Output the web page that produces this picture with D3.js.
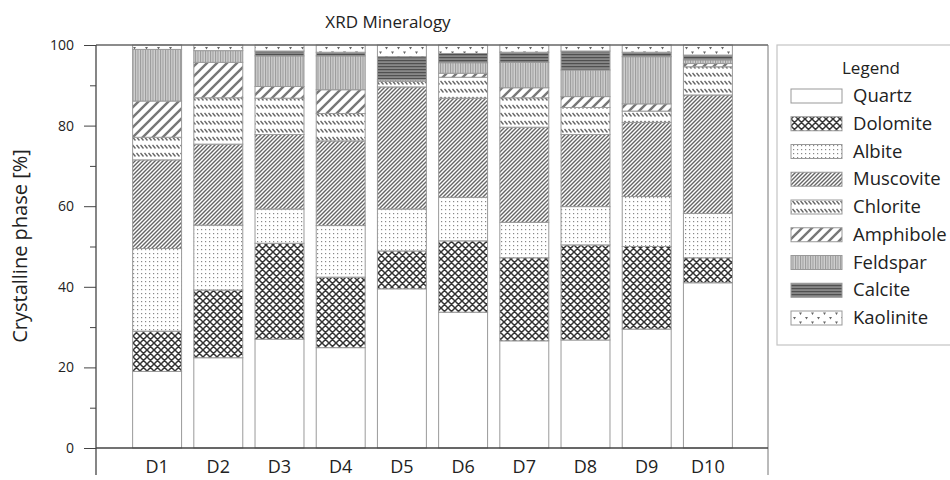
<!DOCTYPE html>
<html>
<head>
<meta charset="utf-8">
<script src="https://cdn.jsdelivr.net/npm/d3@7"></script>
<style>
  body { margin: 0; background: #fff; }
  text { font-family: "Open Sans", "Noto Sans", sans-serif; fill: #222; }
</style>
</head>
<body>
<script>
// Chart data.
var categories = ["D1", "D2", "D3", "D4", "D5", "D6", "D7", "D8", "D9", "D10"];
var minerals = ["Quartz", "Dolomite", "Albite", "Muscovite", "Chlorite", "Amphibole", "Feldspar", "Calcite", "Kaolinite"];
var quartz    = [19.0, 22.4, 27.0, 24.9, 39.5, 33.7, 26.6, 26.8, 29.5, 41.0];
var dolomite  = [10.0, 16.8, 23.8, 17.5,  9.4, 17.7, 20.6, 23.6, 20.5,  6.2];
var albite    = [20.5, 16.1,  8.5, 12.8, 10.4, 10.8,  8.8,  9.5, 12.4, 11.0];
var muscovite = [22.0, 20.1, 18.5, 21.0, 30.3, 24.6, 23.6, 17.9, 18.4, 29.4];
var chlorite  = [ 5.6, 11.5,  9.0,  6.8,  1.4,  5.2,  7.3,  6.7,  2.8,  7.0];
var amphibole = [ 9.0,  8.8,  2.9,  5.9,  0.0,  1.0,  2.5,  2.7,  1.8,  0.8];
var feldspar  = [12.8,  2.9,  7.6,  8.4,  0.4,  2.6,  6.3,  6.6, 11.7,  0.9];
var calcite   = [ 0.0,  0.0,  1.2,  0.9,  5.7,  2.3,  2.5,  4.7,  1.1,  1.2];
var kaolinite = [ 1.1,  1.4,  1.5,  1.8,  2.9,  2.1,  1.8,  1.5,  1.8,  2.5];
var yTicks = [0, 20, 40, 60, 80, 100];
var yMinorTicks = [10, 30, 50, 70, 90];

var series = [quartz, dolomite, albite, muscovite, chlorite, amphibole, feldspar, calcite, kaolinite];

// Build the table d3.stack wants.
var table = categories.map(function(c, i) {
    var row = {cat: c};
    minerals.forEach(function(m, j) { row[m] = series[j][i]; });
    return row;
});

var width = 950, height = 480;
var svg = d3.select("body").append("svg")
        .attr("width", width)
        .attr("height", height);

// Hatch patterns, one per mineral.
var defs = svg.append("defs");
function pattern(id, w, h, bg) {
    var p = defs.append("pattern")
            .attr("id", id)
            .attr("patternUnits", "userSpaceOnUse")
            .attr("width", w)
            .attr("height", h);
    p.append("rect").attr("width", w).attr("height", h).attr("fill", bg);
    return p;
}
pattern("p-Quartz", 4, 4, "#fff");

var pd = pattern("p-Dolomite", 7, 7, "#fff");
pd.append("path").attr("d", "M0,0L7,7M7,0L0,7M-1,6L1,8M6,-1L8,1M-1,1L1,-1M6,8L8,6")
        .attr("stroke", "#333").attr("stroke-width", 1.5);

var pa = pattern("p-Albite", 4, 4, "#fff");
pa.append("rect").attr("x", 1).attr("y", 1).attr("width", 1.2).attr("height", 1.2).attr("fill", "#888");

var pm = pattern("p-Muscovite", 4, 4, "#fff");
pm.append("path").attr("d", "M0,4L4,0M-1,1L1,-1M3,5L5,3")
        .attr("stroke", "#666").attr("stroke-width", 1.4);

var pc = pattern("p-Chlorite", 4, 8, "#fff");
pc.append("path").attr("d", "M0.5,1L3.5,4.5")
        .attr("stroke", "#666").attr("stroke-width", 1.4);

var pam = pattern("p-Amphibole", 10, 10, "#fff");
pam.append("path").attr("d", "M0,10L10,0M-2,2L2,-2M8,12L12,8")
        .attr("stroke", "#777").attr("stroke-width", 2.4);

var pf = pattern("p-Feldspar", 2.5, 3, "#cfcfcf");
pf.append("rect").attr("x", 0).attr("y", 0).attr("width", 1).attr("height", 3).attr("fill", "#999");

var pca = pattern("p-Calcite", 3, 3, "#888");
pca.append("rect").attr("x", 0).attr("y", 0).attr("width", 3).attr("height", 1.2).attr("fill", "#505050");

var pk = pattern("p-Kaolinite", 12, 9, "#fff");
pk.append("path").attr("d", "M1,2L4,2L2.5,4.5Z M7,6.5L10,6.5L8.5,9Z")
        .attr("fill", "#666");

// Scales.
var x = d3.scaleBand()
        .domain(categories)
        .range([126.5, 738.5])
        .paddingInner(0.2)
        .paddingOuter(0.1);
var y = d3.scaleLinear()
        .domain([0, 100])
        .range([448, 45]);

var stack = d3.stack().keys(minerals);
var layers = stack(table);

// Bars.
var g = svg.append("g");
layers.forEach(function(layer) {
    g.selectAll(null)
            .data(layer.filter(function(d) { return d[1] - d[0] > 0; }))
            .enter().append("rect")
            .attr("x", function(d) { return x(d.data.cat); })
            .attr("y", function(d) { return y(d[1]); })
            .attr("width", x.bandwidth())
            .attr("height", function(d) { return y(d[0]) - y(d[1]); })
            .attr("fill", "url(#p-" + layer.key + ")")
            .attr("stroke", "#9a9a9a")
            .attr("stroke-width", 1);
});

// Plot frame.
var left = 96, right = 768, bottomExt = 475;
svg.append("line").attr("x1", left).attr("x2", right).attr("y1", y(100)).attr("y2", y(100))
        .attr("stroke", "#666").attr("stroke-width", 1.3);
svg.append("line").attr("x1", right).attr("x2", right).attr("y1", y(100)).attr("y2", bottomExt)
        .attr("stroke", "#777").attr("stroke-width", 1);
svg.append("line").attr("x1", left).attr("x2", right).attr("y1", y(0)).attr("y2", y(0))
        .attr("stroke", "#444").attr("stroke-width", 1.3);

// Y axis.
var yAxis = svg.append("g")
        .attr("transform", "translate(" + left + ",0)")
        .call(d3.axisLeft(y).tickValues(yTicks).tickSize(12).tickSizeOuter(0).tickPadding(10));
yAxis.select(".domain").remove();
yAxis.selectAll("line").attr("stroke", "#444");
yAxis.selectAll("text").style("font-size", "14px").style("font-family", "Open Sans, sans-serif").attr("fill", "#222");
var yMinor = svg.append("g")
        .attr("transform", "translate(" + left + ",0)")
        .call(d3.axisLeft(y).tickValues(yMinorTicks).tickSize(6).tickFormat(""));
yMinor.select(".domain").remove();
yMinor.selectAll("line").attr("stroke", "#444");
svg.append("line").attr("x1", left).attr("x2", left).attr("y1", y(100)).attr("y2", bottomExt)
        .attr("stroke", "#444").attr("stroke-width", 1.3);

// X labels.
svg.selectAll(".xlab")
        .data(categories)
        .enter().append("text")
        .attr("x", function(d) { return x(d) + x.bandwidth() / 2; })
        .attr("y", 473)
        .attr("text-anchor", "middle")
        .style("font-size", "18px")
        .text(function(d) { return d; });

// Title and axis label.
svg.append("text")
        .attr("x", 388).attr("y", 28)
        .attr("text-anchor", "middle")
        .style("font-size", "17px")
        .text("XRD Mineralogy");
svg.append("text")
        .attr("transform", "translate(27,246) rotate(-90)")
        .attr("text-anchor", "middle")
        .style("font-size", "20px")
        .text("Crystalline phase [%]");

// Legend.
var lg = svg.append("g");
lg.append("rect")
        .attr("x", 777).attr("y", 45).attr("width", 200).attr("height", 300)
        .attr("fill", "#fff").attr("stroke", "#c4c4c4").attr("stroke-width", 1.2);
lg.append("text")
        .attr("x", 871).attr("y", 74)
        .attr("text-anchor", "middle")
        .style("font-size", "17px")
        .text("Legend");
var rowY = d3.scalePoint().domain(minerals).range([96, 318]);
minerals.forEach(function(m) {
    lg.append("rect")
            .attr("x", 791).attr("y", rowY(m) - 7)
            .attr("width", 51).attr("height", 14)
            .attr("fill", "url(#p-" + m + ")")
            .attr("stroke", "#999").attr("stroke-width", 1);
    lg.append("text")
            .attr("x", 853).attr("y", rowY(m) + 6)
            .style("font-size", "18.5px")
            .text(m);
});
</script>
</body>
</html>
